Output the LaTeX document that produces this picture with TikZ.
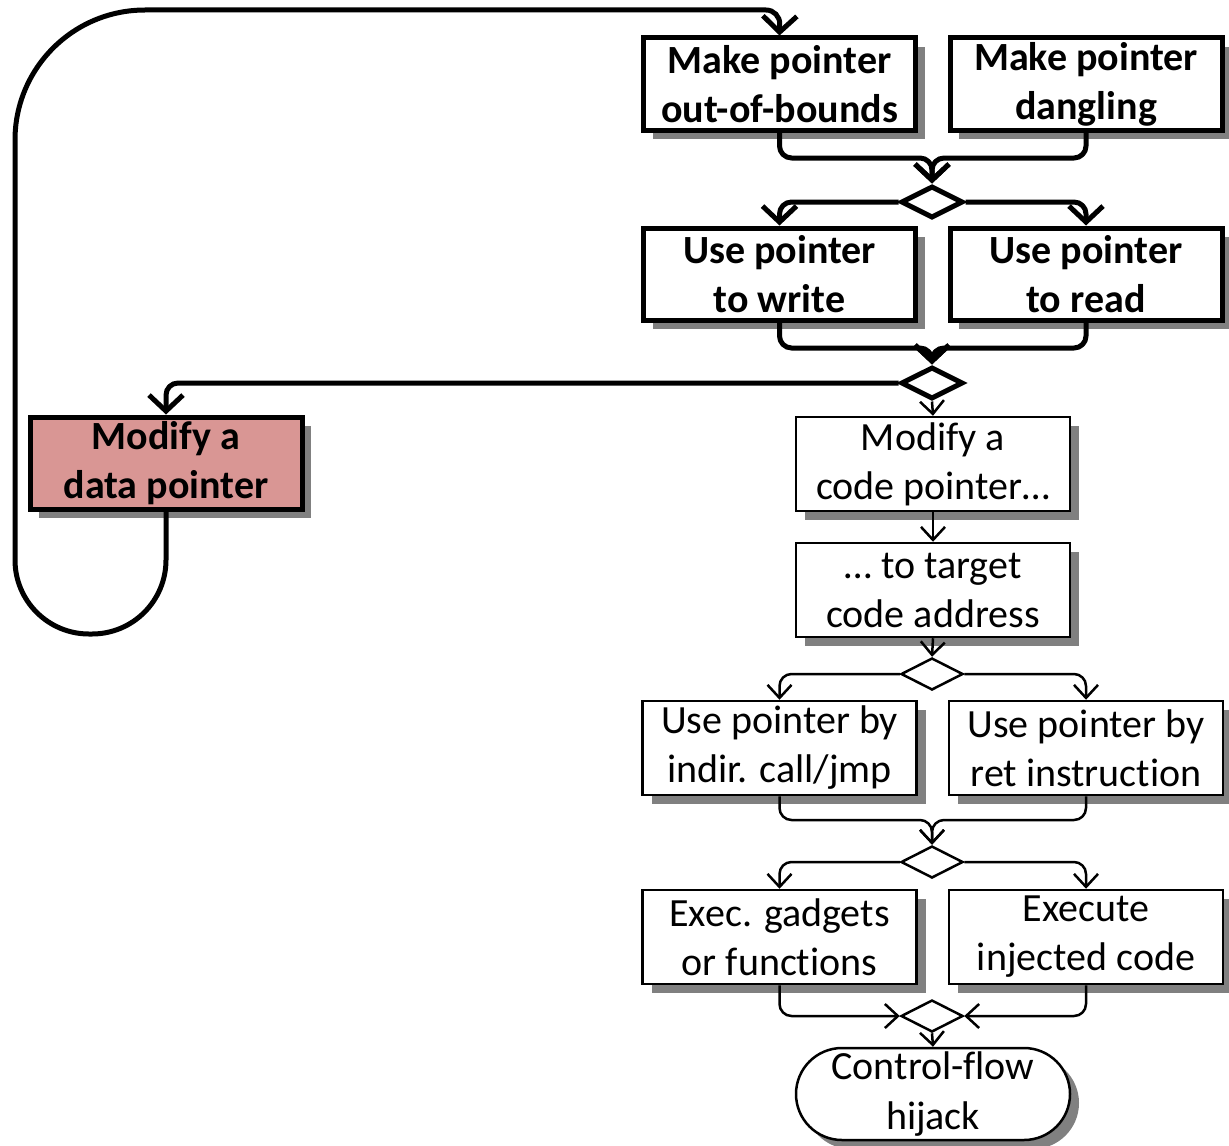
\documentclass[tikz,border=0pt]{standalone}
\usepackage{fontspec}
\setmainfont{Carlito}[Ligatures={NoCommon}]
\usetikzlibrary{arrows.meta,shapes.geometric,shapes.misc,shadows}
\definecolor{datafill}{HTML}{D99694}
\begin{document}
\begin{tikzpicture}[x=0.5pt,y=-0.5pt,
  base/.style={draw=black, fill=white, align=center, inner sep=0pt,
    font=\fontsize{20}{24.5}\selectfont,
    drop shadow={shadow xshift=4.5pt, shadow yshift=-4.5pt, fill=black!50, opacity=1}},
  boldbox/.style={base, rectangle, line width=2.5pt, minimum width=136pt,
    minimum height=46pt, font=\bfseries\fontsize{20}{24.5}\selectfont},
  plainbox/.style={base, rectangle, line width=1.25pt, minimum width=137pt,
    minimum height=47pt},
  terminal/.style={base, rounded rectangle, line width=1.25pt,
    minimum width=137pt, minimum height=46pt, font=\fontsize{20}{25}\selectfont},
  decision/.style={diamond, draw=black, fill=white, inner sep=0pt,
    minimum width=31pt, minimum height=16pt},
  thickdec/.style={decision, line width=2.5pt},
  thindec/.style={decision, line width=1.25pt},
  thickflow/.style={line width=2.5pt, line join=round,
    -{Straight Barb[length=8pt,width=17pt]}, rounded corners=6pt},
  thinflow/.style={line width=1.25pt, line join=round,
    -{Straight Barb[length=6.5pt,width=12pt]}, rounded corners=6pt}
]
\useasboundingbox (0,0) rectangle (1229,1145);

% memory-corruption steps
\node[boldbox] (b1) at (779.5,84) {Make pointer\\out-of-bounds};
\node[boldbox] (b2) at (1086,84) {Make pointer\\dangling};
\node[thickdec] (d1) at (932,202) {};
\node[boldbox] (b3) at (779.5,274) {Use pointer\\to write};
\node[boldbox] (b4) at (1086,274) {Use pointer\\to read};
\node[thickdec] (d2) at (932,383) {};
\node[boldbox, fill=datafill] (b5) at (166,463) {Modify a\\data pointer};

% control-flow hijack steps
\node[plainbox] (b6) at (933,464) {Modify a\\code pointer…};
\node[plainbox] (b7) at (933,590) {… to target\\code address};
\node[thindec] (d3) at (932,674) {};
\node[plainbox] (b8) at (779.5,748) {Use pointer by\\indir. call/jmp};
\node[plainbox] (b9) at (1086,748) {Use pointer by\\ret instruction};
\node[thindec] (d4) at (932,862) {};
\node[plainbox] (b10) at (779.5,937) {Exec. gadgets\\or functions};
\node[plainbox] (b11) at (1086,937) {Execute\\injected code};
\node[thindec] (d5) at (932,1016) {};
\node[terminal] (t) at (933,1094) {Control-flow\\hijack};

% junction points above the decisions
\coordinate (j1) at (932,158);
\coordinate (j2) at (932,348);
\coordinate (j3) at (932,820);

% thick connectors
\draw[thickflow] (b1.south) |- (j1) -- (d1.north);
\draw[thickflow] (b2.south) |- (j1) -- (d1.north);
\draw[thickflow] (d1.west) -| (b3.north);
\draw[thickflow] (d1.east) -| (b4.north);
\draw[thickflow] (b3.south) |- (j2) -- (d2.north);
\draw[thickflow] (b4.south) |- (j2) -- (d2.north);
\draw[thickflow] (d2.west) -| (b5.north);

% loop back from the data pointer to the first step
\coordinate (l1) at (166,634);
\coordinate (l2) at (15,634);
\coordinate (l3) at (15,400);
\coordinate (l4) at (15,10);
\coordinate (l5) at (400,10);
\coordinate (l6) at (780,10);
\draw[line width=2.5pt, -{Straight Barb[length=8pt,width=17pt]}]
  (b5.south) [rounded corners=37pt] -- (l1) -- (l2) -- (l3)
  [rounded corners=65pt] -- (l4) -- (l5)
  [rounded corners=7pt] -- (l6) -- (b1.north);

% thin connectors
\draw[thinflow] (d2.south) -- (b6.north);
\draw[thinflow] (b6.south) -- (b7.north);
\draw[thinflow] (b7.south) -- (d3.north);
\draw[thinflow] (d3.west) -| (b8.north);
\draw[thinflow] (d3.east) -| (b9.north);
\draw[thinflow] (b8.south) |- (j3) -- (d4.north);
\draw[thinflow] (b9.south) |- (j3) -- (d4.north);
\draw[thinflow] (d4.west) -| (b10.north);
\draw[thinflow] (d4.east) -| (b11.north);
\draw[thinflow] (b10.south) |- (d5.west);
\draw[thinflow] (b11.south) |- (d5.east);
\draw[thinflow] (d5.south) -- (t.north);
\end{tikzpicture}
\end{document}
